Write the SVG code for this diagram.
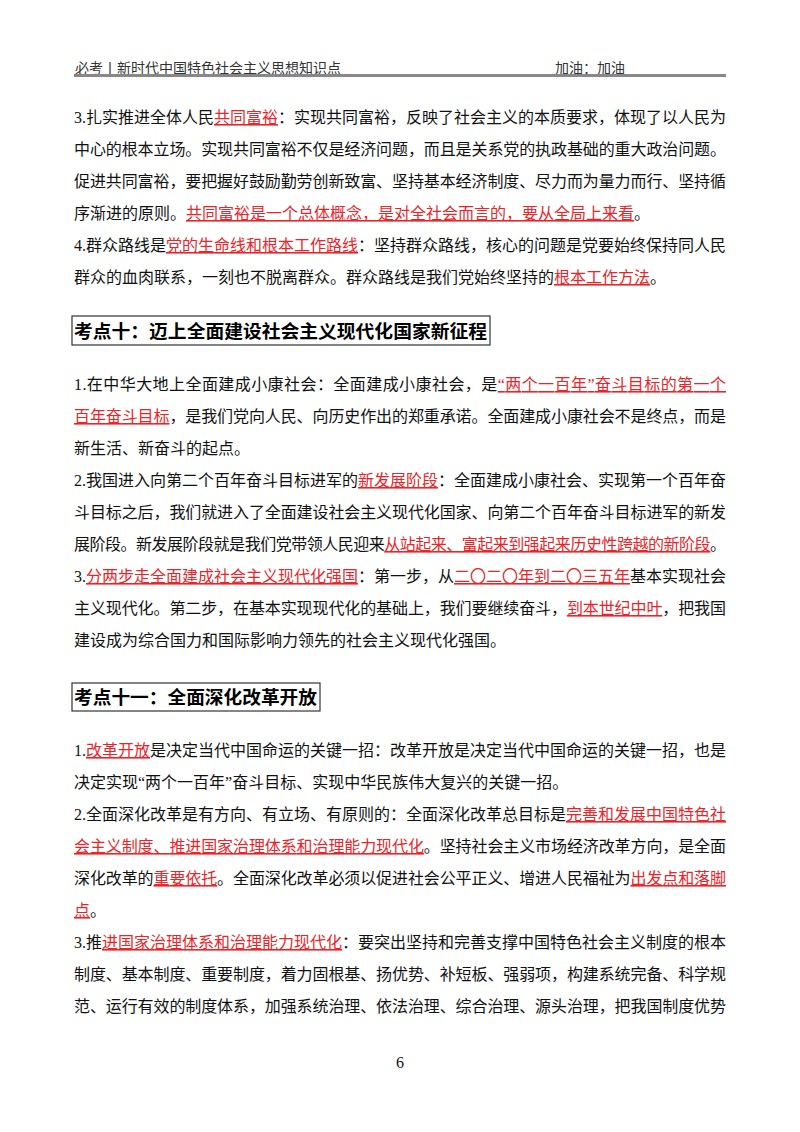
<svg xmlns="http://www.w3.org/2000/svg" width="800" height="1132" viewBox="0 0 800 1132">
<style>
text{font-family:"Liberation Serif","Noto Sans CJK SC",serif;font-size:16px;fill:#111}
.r{fill:#e8262a;text-decoration:underline}
.h{font-size:14px;fill:#333}
.t{font-size:18px;font-weight:bold;fill:#000}
.box{fill:none;stroke:#333;stroke-width:1.2}
</style>
<rect width="800" height="1132" fill="#fff"/>
<g id="header">
<text class="h" x="75" y="73">必考丨新时代中国特色社会主义思想知识点</text>
<text class="h" x="555" y="73">加油：加油</text>
<rect x="74" y="74" width="652" height="3" fill="#888"/>
</g>
<g id="part1">
<text x="74" y="123" textLength="652" lengthAdjust="spacing">3.扎实推进全体人民<tspan class="r">共同富裕</tspan>：实现共同富裕，反映了社会主义的本质要求，体现了以人民为</text>
<text x="74" y="155" textLength="652" lengthAdjust="spacing">中心的根本立场。实现共同富裕不仅是经济问题，而且是关系党的执政基础的重大政治问题。</text>
<text x="74" y="187" textLength="652" lengthAdjust="spacing">促进共同富裕，要把握好鼓励勤劳创新致富、坚持基本经济制度、尽力而为量力而行、坚持循</text>
<text x="74" y="219">序渐进的原则。<tspan class="r">共同富裕是一个总体概念，是对全社会而言的，要从全局上来看</tspan>。</text>
<text x="74" y="251" textLength="652" lengthAdjust="spacing">4.群众路线是<tspan class="r">党的生命线和根本工作路线</tspan>：坚持群众路线，核心的问题是党要始终保持同人民</text>
<text x="74" y="283">群众的血肉联系，一刻也不脱离群众。群众路线是我们党始终坚持的<tspan class="r">根本工作方法</tspan>。</text>
</g>
<g id="title10">
<rect class="box" x="72" y="316" width="418" height="29"/>
<text class="t" x="74" y="338" textLength="413" lengthAdjust="spacingAndGlyphs">考点十：迈上全面建设社会主义现代化国家新征程</text>
</g>
<g id="part2">
<text x="74" y="390" textLength="652" lengthAdjust="spacing">1.在中华大地上全面建成小康社会：全面建成小康社会，是<tspan class="r">“两个一百年”奋斗目标的第一个</tspan></text>
<text x="74" y="422" textLength="652" lengthAdjust="spacing"><tspan class="r">百年奋斗目标</tspan>，是我们党向人民、向历史作出的郑重承诺。全面建成小康社会不是终点，而是</text>
<text x="74" y="454">新生活、新奋斗的起点。</text>
<text x="74" y="486" textLength="652" lengthAdjust="spacing">2.我国进入向第二个百年奋斗目标进军的<tspan class="r">新发展阶段</tspan>：全面建成小康社会、实现第一个百年奋</text>
<text x="74" y="518" textLength="652" lengthAdjust="spacing">斗目标之后，我们就进入了全面建设社会主义现代化国家、向第二个百年奋斗目标进军的新发</text>
<text x="74" y="550" textLength="652" lengthAdjust="spacing">展阶段。新发展阶段就是我们党带领人民迎来<tspan class="r">从站起来、富起来到强起来历史性跨越的新阶段</tspan>。</text>
<text x="74" y="582" textLength="652" lengthAdjust="spacing">3.<tspan class="r">分两步走全面建成社会主义现代化强国</tspan>：第一步，从<tspan class="r">二〇二〇年到二〇三五年</tspan>基本实现社会</text>
<text x="74" y="614" textLength="652" lengthAdjust="spacing">主义现代化。第二步，在基本实现现代化的基础上，我们要继续奋斗，<tspan class="r">到本世纪中叶</tspan>，把我国</text>
<text x="74" y="646">建设成为综合国力和国际影响力领先的社会主义现代化强国。</text>
</g>
<g id="title11">
<rect class="box" x="72" y="683" width="248" height="28"/>
<text class="t" x="74" y="704" textLength="243" lengthAdjust="spacingAndGlyphs">考点十一：全面深化改革开放</text>
</g>
<g id="part3">
<text x="74" y="756" textLength="652" lengthAdjust="spacing">1.<tspan class="r">改革开放</tspan>是决定当代中国命运的关键一招：改革开放是决定当代中国命运的关键一招，也是</text>
<text x="74" y="788">决定实现“两个一百年”奋斗目标、实现中华民族伟大复兴的关键一招。</text>
<text x="74" y="820" textLength="652" lengthAdjust="spacing">2.全面深化改革是有方向、有立场、有原则的：全面深化改革总目标是<tspan class="r">完善和发展中国特色社</tspan></text>
<text x="74" y="852" textLength="652" lengthAdjust="spacing"><tspan class="r">会主义制度、推进国家治理体系和治理能力现代化</tspan>。坚持社会主义市场经济改革方向，是全面</text>
<text x="74" y="884" textLength="652" lengthAdjust="spacing">深化改革的<tspan class="r">重要依托</tspan>。全面深化改革必须以促进社会公平正义、增进人民福祉为<tspan class="r">出发点和落脚</tspan></text>
<text x="74" y="916"><tspan class="r">点</tspan>。</text>
<text x="74" y="948" textLength="652" lengthAdjust="spacing">3.推<tspan class="r">进国家治理体系和治理能力现代化</tspan>：要突出坚持和完善支撑中国特色社会主义制度的根本</text>
<text x="74" y="980" textLength="652" lengthAdjust="spacing">制度、基本制度、重要制度，着力固根基、扬优势、补短板、强弱项，构建系统完备、科学规</text>
<text x="74" y="1012" textLength="652" lengthAdjust="spacing">范、运行有效的制度体系，加强系统治理、依法治理、综合治理、源头治理，把我国制度优势</text>
</g>
<g id="footer"><text x="400" y="1068" text-anchor="middle" font-size="14">6</text></g>
</svg>
